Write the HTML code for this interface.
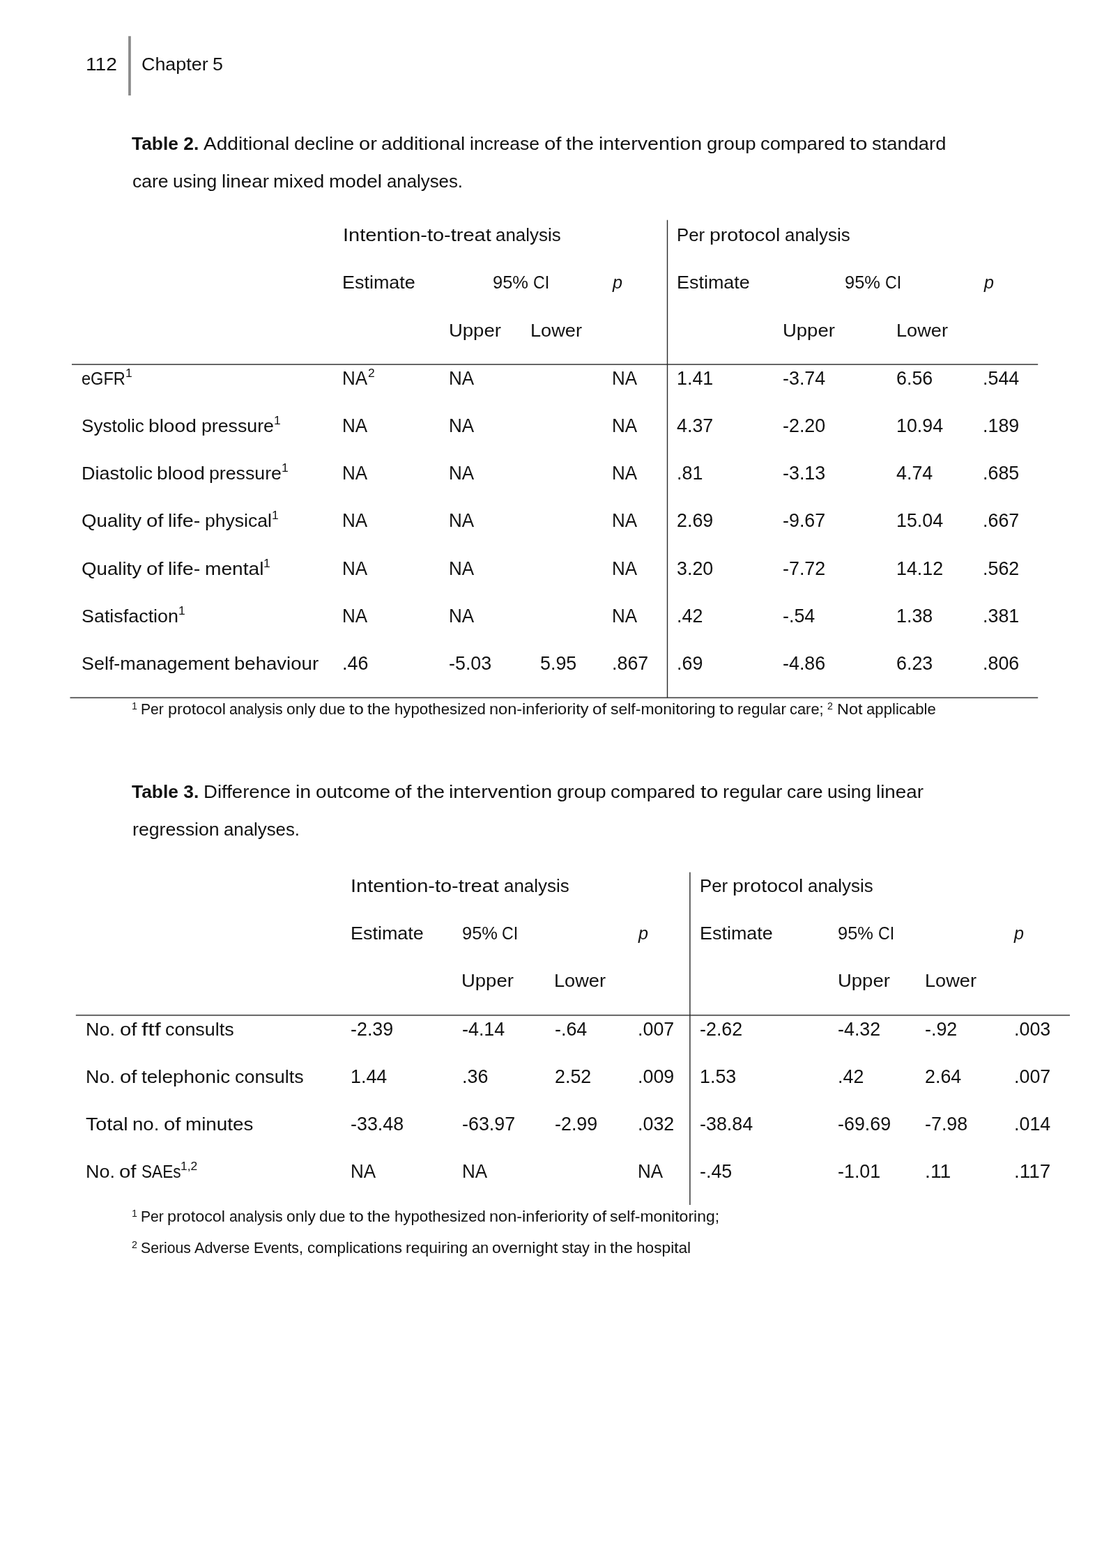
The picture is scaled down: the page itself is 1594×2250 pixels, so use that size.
<!DOCTYPE html><html lang="en"><head><meta charset="utf-8"><title>Chapter 5 - page 112</title><style>
html,body{margin:0;padding:0;background:#fff}
#pg{position:relative;width:1594px;height:2250px;overflow:hidden;background:#fff;font-family:"Liberation Sans",sans-serif;color:#111}
#pg span,#pg sup{position:absolute;white-space:pre;transform-origin:0 0;display:block}
.b{font-size:26.5px;line-height:32px;}
.B{font-size:26.5px;line-height:32px;font-weight:bold;}
.i{font-size:26.5px;line-height:32px;font-style:italic;}
.n{font-size:27.0px;line-height:32px;}
.f{font-size:21.7px;line-height:26px;}
.s{font-size:16.9px;line-height:20px;}
.t{font-size:13.8px;line-height:16px;}
svg{position:absolute;left:0;top:0}
</style></head><body><div id="pg">
<svg width="1594" height="2250" viewBox="0 0 1594 2250">
<rect x="184.1" y="51.8" width="3.7" height="85.2" fill="#8a8a8a"/>
<rect x="103" y="522.0" width="1386.2" height="1.8" fill="#555"/>
<rect x="100.5" y="1000.3" width="1388.7" height="1.8" fill="#555"/>
<rect x="956.8" y="315.7" width="1.4" height="685.5" fill="#2a2a2a"/>
<rect x="108.8" y="1455.9" width="1426.2" height="1.8" fill="#555"/>
<rect x="989.2" y="1251.6" width="1.4" height="477.4" fill="#2a2a2a"/>
</svg>
<div><span class="b" style="left:122.55px;top:76px;transform:scaleX(1.0610)">112</span></div>
<div><span class="b" style="left:202.97px;top:76px;transform:scaleX(1.0140)">Chapter </span><span class="b" style="left:305.23px;top:76px;transform:scaleX(1.0138)">5</span></div>
<div><span class="B" style="left:189.10px;top:190px;transform:scaleX(0.9948)">Table 2.</span></div>
<div><span class="b" style="left:292.14px;top:190px;transform:scaleX(1.0589)">Additional </span><span class="b" style="left:422.04px;top:190px;transform:scaleX(1.0272)">decline </span><span class="b" style="left:514.96px;top:190px;transform:scaleX(1.0956)">or </span><span class="b" style="left:547.43px;top:190px;transform:scaleX(1.0603)">additional </span><span class="b" style="left:674.39px;top:190px;transform:scaleX(0.9980)">increase </span><span class="b" style="left:781.01px;top:190px;transform:scaleX(1.1094)">of </span><span class="b" style="left:812.19px;top:190px;transform:scaleX(1.0864)">the </span><span class="b" style="left:858.87px;top:190px;transform:scaleX(1.0813)">intervention </span><span class="b" style="left:1013.68px;top:190px;transform:scaleX(1.0422)">group </span><span class="b" style="left:1090.98px;top:190px;transform:scaleX(1.0316)">compared </span><span class="b" style="left:1219.20px;top:190px;transform:scaleX(1.1494)">to </span><span class="b" style="left:1251.27px;top:190px;transform:scaleX(1.0310)">standard</span></div>
<div><span class="b" style="left:189.67px;top:244px;transform:scaleX(0.9998)">care </span><span class="b" style="left:247.88px;top:244px;transform:scaleX(0.9960)">using </span><span class="b" style="left:317.63px;top:244px;transform:scaleX(1.0499)">linear </span><span class="b" style="left:392.34px;top:244px;transform:scaleX(1.0356)">mixed </span><span class="b" style="left:472.20px;top:244px;transform:scaleX(1.0526)">model </span><span class="b" style="left:554.84px;top:244px;transform:scaleX(0.9732)">analyses.</span></div>
<div><span class="b" style="left:491.78px;top:321px;transform:scaleX(1.0944)">Intention-to-treat </span><span class="b" style="left:711.25px;top:321px;transform:scaleX(0.9776)">analysis</span></div>
<div><span class="b" style="left:971.24px;top:321px;transform:scaleX(0.9748)">Per </span><span class="b" style="left:1018.09px;top:321px;transform:scaleX(1.0759)">protocol </span><span class="b" style="left:1126.19px;top:321px;transform:scaleX(0.9776)">analysis</span></div>
<div><span class="b" style="left:491.41px;top:389px;transform:scaleX(1.0160)">Estimate</span></div>
<div><span class="b" style="left:707.12px;top:389px;transform:scaleX(0.9607)">95% </span><span class="b" style="left:764.74px;top:389px;transform:scaleX(0.8730)">CI</span></div>
<div><span class="i" style="left:879.43px;top:389px;transform:scaleX(0.9488)">p</span></div>
<div><span class="b" style="left:971.21px;top:389px;transform:scaleX(1.0160)">Estimate</span></div>
<div><span class="b" style="left:1212.02px;top:389px;transform:scaleX(0.9607)">95% </span><span class="b" style="left:1269.64px;top:389px;transform:scaleX(0.8730)">CI</span></div>
<div><span class="i" style="left:1411.93px;top:389px;transform:scaleX(0.9488)">p</span></div>
<div><span class="b" style="left:644.21px;top:458px;transform:scaleX(1.0367)">Upper</span></div>
<div><span class="b" style="left:761.01px;top:458px;transform:scaleX(1.0244)">Lower</span></div>
<div><span class="b" style="left:1123.21px;top:458px;transform:scaleX(1.0367)">Upper</span></div>
<div><span class="b" style="left:1285.91px;top:458px;transform:scaleX(1.0244)">Lower</span></div>
<div><span class="b" style="left:116.87px;top:527px;transform:scaleX(0.8886)">eGFR</span></div>
<div><sup class="s" style="left:179.67px;top:526px;transform:scaleX(1.0339)">1</sup></div>
<div><span class="n" style="left:491.40px;top:527px;transform:scaleX(0.9625)">NA</span></div>
<div><sup class="s" style="left:527.50px;top:526px;transform:scaleX(1.0339)">2</sup></div>
<div><span class="n" style="left:644.00px;top:527px;transform:scaleX(0.9625)">NA</span></div>
<div><span class="n" style="left:878.30px;top:527px;transform:scaleX(0.9625)">NA</span></div>
<div><span class="n" style="left:970.60px;top:527px;transform:scaleX(0.9943)">1.41</span></div>
<div><span class="n" style="left:1123.30px;top:527px;transform:scaleX(0.9956)">-3.74</span></div>
<div><span class="n" style="left:1285.60px;top:527px;transform:scaleX(0.9943)">6.56</span></div>
<div><span class="n" style="left:1409.90px;top:527px;transform:scaleX(0.9943)">.544</span></div>
<div><span class="b" style="left:116.81px;top:595px;transform:scaleX(0.9832)">Systolic </span><span class="b" style="left:213.24px;top:595px;transform:scaleX(1.0604)">blood </span><span class="b" style="left:288.65px;top:595px;transform:scaleX(1.0079)">pressure</span></div>
<div><sup class="s" style="left:392.56px;top:594px;transform:scaleX(1.0339)">1</sup></div>
<div><span class="n" style="left:491.40px;top:595px;transform:scaleX(0.9625)">NA</span></div>
<div><span class="n" style="left:644.00px;top:595px;transform:scaleX(0.9625)">NA</span></div>
<div><span class="n" style="left:878.30px;top:595px;transform:scaleX(0.9625)">NA</span></div>
<div><span class="n" style="left:970.60px;top:595px;transform:scaleX(0.9943)">4.37</span></div>
<div><span class="n" style="left:1123.30px;top:595px;transform:scaleX(0.9956)">-2.20</span></div>
<div><span class="n" style="left:1285.60px;top:595px;transform:scaleX(0.9945)">10.94</span></div>
<div><span class="n" style="left:1409.90px;top:595px;transform:scaleX(0.9943)">.189</span></div>
<div><span class="b" style="left:116.53px;top:663px;transform:scaleX(1.0174)">Diastolic </span><span class="b" style="left:225.07px;top:663px;transform:scaleX(1.0604)">blood </span><span class="b" style="left:300.48px;top:663px;transform:scaleX(1.0079)">pressure</span></div>
<div><sup class="s" style="left:404.40px;top:662px;transform:scaleX(1.0339)">1</sup></div>
<div><span class="n" style="left:491.40px;top:663px;transform:scaleX(0.9625)">NA</span></div>
<div><span class="n" style="left:644.00px;top:663px;transform:scaleX(0.9625)">NA</span></div>
<div><span class="n" style="left:878.30px;top:663px;transform:scaleX(0.9625)">NA</span></div>
<div><span class="n" style="left:970.60px;top:663px;transform:scaleX(0.9940)">.81</span></div>
<div><span class="n" style="left:1123.30px;top:663px;transform:scaleX(0.9956)">-3.13</span></div>
<div><span class="n" style="left:1285.60px;top:663px;transform:scaleX(0.9943)">4.74</span></div>
<div><span class="n" style="left:1409.90px;top:663px;transform:scaleX(0.9943)">.685</span></div>
<div><span class="b" style="left:117.18px;top:731px;transform:scaleX(1.0444)">Quality </span><span class="b" style="left:209.98px;top:731px;transform:scaleX(1.1094)">of </span><span class="b" style="left:241.16px;top:731px;transform:scaleX(1.0815)">life- </span><span class="b" style="left:294.00px;top:731px;transform:scaleX(1.0016)">physical</span></div>
<div><sup class="s" style="left:389.90px;top:730px;transform:scaleX(1.0339)">1</sup></div>
<div><span class="n" style="left:491.40px;top:731px;transform:scaleX(0.9625)">NA</span></div>
<div><span class="n" style="left:644.00px;top:731px;transform:scaleX(0.9625)">NA</span></div>
<div><span class="n" style="left:878.30px;top:731px;transform:scaleX(0.9625)">NA</span></div>
<div><span class="n" style="left:970.60px;top:731px;transform:scaleX(0.9943)">2.69</span></div>
<div><span class="n" style="left:1123.30px;top:731px;transform:scaleX(0.9956)">-9.67</span></div>
<div><span class="n" style="left:1285.60px;top:731px;transform:scaleX(0.9945)">15.04</span></div>
<div><span class="n" style="left:1409.90px;top:731px;transform:scaleX(0.9943)">.667</span></div>
<div><span class="b" style="left:117.06px;top:800px;transform:scaleX(1.0444)">Quality </span><span class="b" style="left:209.86px;top:800px;transform:scaleX(1.1094)">of </span><span class="b" style="left:241.04px;top:800px;transform:scaleX(1.0815)">life- </span><span class="b" style="left:293.88px;top:800px;transform:scaleX(1.0615)">mental</span></div>
<div><sup class="s" style="left:378.31px;top:799px;transform:scaleX(1.0339)">1</sup></div>
<div><span class="n" style="left:491.40px;top:800px;transform:scaleX(0.9625)">NA</span></div>
<div><span class="n" style="left:644.00px;top:800px;transform:scaleX(0.9625)">NA</span></div>
<div><span class="n" style="left:878.30px;top:800px;transform:scaleX(0.9625)">NA</span></div>
<div><span class="n" style="left:970.60px;top:800px;transform:scaleX(0.9943)">3.20</span></div>
<div><span class="n" style="left:1123.30px;top:800px;transform:scaleX(0.9956)">-7.72</span></div>
<div><span class="n" style="left:1285.60px;top:800px;transform:scaleX(0.9945)">14.12</span></div>
<div><span class="n" style="left:1409.90px;top:800px;transform:scaleX(0.9943)">.562</span></div>
<div><span class="b" style="left:117.02px;top:868px;transform:scaleX(1.0145)">Satisfaction</span></div>
<div><sup class="s" style="left:256.00px;top:867px;transform:scaleX(1.0339)">1</sup></div>
<div><span class="n" style="left:491.40px;top:868px;transform:scaleX(0.9625)">NA</span></div>
<div><span class="n" style="left:644.00px;top:868px;transform:scaleX(0.9625)">NA</span></div>
<div><span class="n" style="left:878.30px;top:868px;transform:scaleX(0.9625)">NA</span></div>
<div><span class="n" style="left:970.60px;top:868px;transform:scaleX(0.9940)">.42</span></div>
<div><span class="n" style="left:1123.30px;top:868px;transform:scaleX(0.9957)">-.54</span></div>
<div><span class="n" style="left:1285.60px;top:868px;transform:scaleX(0.9943)">1.38</span></div>
<div><span class="n" style="left:1409.90px;top:868px;transform:scaleX(0.9943)">.381</span></div>
<div><span class="b" style="left:116.76px;top:936px;transform:scaleX(1.0151)">Self-management </span><span class="b" style="left:335.75px;top:936px;transform:scaleX(1.0404)">behaviour</span></div>
<div><span class="n" style="left:491.40px;top:936px;transform:scaleX(0.9940)">.46</span></div>
<div><span class="n" style="left:644.00px;top:936px;transform:scaleX(0.9956)">-5.03</span></div>
<div><span class="n" style="left:774.60px;top:936px;transform:scaleX(0.9943)">5.95</span></div>
<div><span class="n" style="left:878.30px;top:936px;transform:scaleX(0.9943)">.867</span></div>
<div><span class="n" style="left:970.60px;top:936px;transform:scaleX(0.9940)">.69</span></div>
<div><span class="n" style="left:1123.30px;top:936px;transform:scaleX(0.9956)">-4.86</span></div>
<div><span class="n" style="left:1285.60px;top:936px;transform:scaleX(0.9943)">6.23</span></div>
<div><span class="n" style="left:1409.90px;top:936px;transform:scaleX(0.9943)">.806</span></div>
<div><sup class="t" style="left:188.84px;top:1006px;transform:scaleX(1.0359)">1</sup></div>
<div><span class="f" style="left:202.24px;top:1005px;transform:scaleX(0.9748)">Per </span><span class="f" style="left:240.59px;top:1005px;transform:scaleX(1.0760)">protocol </span><span class="f" style="left:329.06px;top:1005px;transform:scaleX(0.9777)">analysis </span><span class="f" style="left:411.12px;top:1005px;transform:scaleX(1.0512)">only </span><span class="f" style="left:458.39px;top:1005px;transform:scaleX(1.0319)">due </span><span class="f" style="left:501.18px;top:1005px;transform:scaleX(1.1495)">to </span><span class="f" style="left:527.42px;top:1005px;transform:scaleX(1.0865)">the </span><span class="f" style="left:565.63px;top:1005px;transform:scaleX(1.0240)">hypothesized </span><span class="f" style="left:701.96px;top:1005px;transform:scaleX(1.0852)">non-inferiority </span><span class="f" style="left:849.98px;top:1005px;transform:scaleX(1.1095)">of </span><span class="f" style="left:875.50px;top:1005px;transform:scaleX(1.0591)">self-monitoring </span><span class="f" style="left:1031.58px;top:1005px;transform:scaleX(1.1495)">to </span><span class="f" style="left:1057.82px;top:1005px;transform:scaleX(1.0361)">regular </span><span class="f" style="left:1133.22px;top:1005px;transform:scaleX(1.0090)">care;</span></div>
<div><sup class="t" style="left:1187.32px;top:1006px;transform:scaleX(1.0359)">2</sup></div>
<div><span class="f" style="left:1200.72px;top:1005px;transform:scaleX(1.0777)">Not </span><span class="f" style="left:1242.55px;top:1005px;transform:scaleX(1.0227)">applicable</span></div>
<div><span class="B" style="left:189.10px;top:1120px;transform:scaleX(0.9948)">Table 3.</span></div>
<div><span class="b" style="left:291.94px;top:1120px;transform:scaleX(1.0399)">Difference </span><span class="b" style="left:423.70px;top:1120px;transform:scaleX(1.0773)">in </span><span class="b" style="left:452.58px;top:1120px;transform:scaleX(1.0537)">outcome </span><span class="b" style="left:566.33px;top:1120px;transform:scaleX(1.1094)">of </span><span class="b" style="left:597.51px;top:1120px;transform:scaleX(1.0864)">the </span><span class="b" style="left:644.19px;top:1120px;transform:scaleX(1.0813)">intervention </span><span class="b" style="left:799.00px;top:1120px;transform:scaleX(1.0422)">group </span><span class="b" style="left:876.30px;top:1120px;transform:scaleX(1.0316)">compared </span><span class="b" style="left:1004.52px;top:1120px;transform:scaleX(1.1494)">to </span><span class="b" style="left:1036.59px;top:1120px;transform:scaleX(1.0361)">regular </span><span class="b" style="left:1128.71px;top:1120px;transform:scaleX(0.9998)">care </span><span class="b" style="left:1186.91px;top:1120px;transform:scaleX(0.9960)">using </span><span class="b" style="left:1256.67px;top:1120px;transform:scaleX(1.0499)">linear</span></div>
<div><span class="b" style="left:189.69px;top:1174px;transform:scaleX(1.0070)">regression </span><span class="b" style="left:320.95px;top:1174px;transform:scaleX(0.9732)">analyses.</span></div>
<div><span class="b" style="left:503.43px;top:1255px;transform:scaleX(1.0944)">Intention-to-treat </span><span class="b" style="left:722.90px;top:1255px;transform:scaleX(0.9776)">analysis</span></div>
<div><span class="b" style="left:1004.30px;top:1255px;transform:scaleX(0.9748)">Per </span><span class="b" style="left:1051.16px;top:1255px;transform:scaleX(1.0759)">protocol </span><span class="b" style="left:1159.26px;top:1255px;transform:scaleX(0.9776)">analysis</span></div>
<div><span class="b" style="left:502.71px;top:1323px;transform:scaleX(1.0160)">Estimate</span></div>
<div><span class="b" style="left:662.72px;top:1323px;transform:scaleX(0.9607)">95% </span><span class="b" style="left:720.34px;top:1323px;transform:scaleX(0.8730)">CI</span></div>
<div><span class="i" style="left:916.03px;top:1323px;transform:scaleX(0.9488)">p</span></div>
<div><span class="b" style="left:1003.91px;top:1323px;transform:scaleX(1.0160)">Estimate</span></div>
<div><span class="b" style="left:1202.02px;top:1323px;transform:scaleX(0.9607)">95% </span><span class="b" style="left:1259.64px;top:1323px;transform:scaleX(0.8730)">CI</span></div>
<div><span class="i" style="left:1455.13px;top:1323px;transform:scaleX(0.9488)">p</span></div>
<div><span class="b" style="left:662.31px;top:1391px;transform:scaleX(1.0367)">Upper</span></div>
<div><span class="b" style="left:795.11px;top:1391px;transform:scaleX(1.0244)">Lower</span></div>
<div><span class="b" style="left:1201.81px;top:1391px;transform:scaleX(1.0367)">Upper</span></div>
<div><span class="b" style="left:1326.61px;top:1391px;transform:scaleX(1.0244)">Lower</span></div>
<div><span class="b" style="left:123.03px;top:1461px;transform:scaleX(1.0183)">No. </span><span class="b" style="left:171.69px;top:1461px;transform:scaleX(1.1094)">of </span><span class="b" style="left:202.87px;top:1461px;transform:scaleX(1.2608)">ftf </span><span class="b" style="left:237.38px;top:1461px;transform:scaleX(1.0143)">consults</span></div>
<div><span class="n" style="left:502.90px;top:1461px;transform:scaleX(0.9956)">-2.39</span></div>
<div><span class="n" style="left:662.70px;top:1461px;transform:scaleX(0.9956)">-4.14</span></div>
<div><span class="n" style="left:795.50px;top:1461px;transform:scaleX(0.9957)">-.64</span></div>
<div><span class="n" style="left:914.70px;top:1461px;transform:scaleX(0.9943)">.007</span></div>
<div><span class="n" style="left:1003.70px;top:1461px;transform:scaleX(0.9956)">-2.62</span></div>
<div><span class="n" style="left:1202.10px;top:1461px;transform:scaleX(0.9956)">-4.32</span></div>
<div><span class="n" style="left:1327.30px;top:1461px;transform:scaleX(0.9957)">-.92</span></div>
<div><span class="n" style="left:1454.60px;top:1461px;transform:scaleX(0.9943)">.003</span></div>
<div><span class="b" style="left:122.90px;top:1529px;transform:scaleX(1.0183)">No. </span><span class="b" style="left:171.55px;top:1529px;transform:scaleX(1.1094)">of </span><span class="b" style="left:202.73px;top:1529px;transform:scaleX(1.0523)">telephonic </span><span class="b" style="left:336.53px;top:1529px;transform:scaleX(1.0143)">consults</span></div>
<div><span class="n" style="left:502.90px;top:1529px;transform:scaleX(0.9943)">1.44</span></div>
<div><span class="n" style="left:662.70px;top:1529px;transform:scaleX(0.9940)">.36</span></div>
<div><span class="n" style="left:795.50px;top:1529px;transform:scaleX(0.9943)">2.52</span></div>
<div><span class="n" style="left:914.70px;top:1529px;transform:scaleX(0.9943)">.009</span></div>
<div><span class="n" style="left:1003.70px;top:1529px;transform:scaleX(0.9943)">1.53</span></div>
<div><span class="n" style="left:1202.10px;top:1529px;transform:scaleX(0.9940)">.42</span></div>
<div><span class="n" style="left:1327.30px;top:1529px;transform:scaleX(0.9943)">2.64</span></div>
<div><span class="n" style="left:1454.60px;top:1529px;transform:scaleX(0.9943)">.007</span></div>
<div><span class="b" style="left:122.77px;top:1597px;transform:scaleX(1.0830)">Total </span><span class="b" style="left:190.05px;top:1597px;transform:scaleX(1.0432)">no. </span><span class="b" style="left:235.13px;top:1597px;transform:scaleX(1.1094)">of </span><span class="b" style="left:266.31px;top:1597px;transform:scaleX(1.0487)">minutes</span></div>
<div><span class="n" style="left:502.90px;top:1597px;transform:scaleX(0.9955)">-33.48</span></div>
<div><span class="n" style="left:662.70px;top:1597px;transform:scaleX(0.9955)">-63.97</span></div>
<div><span class="n" style="left:795.50px;top:1597px;transform:scaleX(0.9956)">-2.99</span></div>
<div><span class="n" style="left:914.70px;top:1597px;transform:scaleX(0.9943)">.032</span></div>
<div><span class="n" style="left:1003.70px;top:1597px;transform:scaleX(0.9955)">-38.84</span></div>
<div><span class="n" style="left:1202.10px;top:1597px;transform:scaleX(0.9955)">-69.69</span></div>
<div><span class="n" style="left:1327.30px;top:1597px;transform:scaleX(0.9956)">-7.98</span></div>
<div><span class="n" style="left:1454.60px;top:1597px;transform:scaleX(0.9943)">.014</span></div>
<div><span class="b" style="left:122.70px;top:1665px;transform:scaleX(1.0183)">No. </span><span class="b" style="left:171.36px;top:1665px;transform:scaleX(1.1094)">of </span><span class="b" style="left:202.54px;top:1665px;transform:scaleX(0.8524)">SAEs</span></div>
<div><sup class="s" style="left:259.03px;top:1664px;transform:scaleX(1.0312)">1,2</sup></div>
<div><span class="n" style="left:502.90px;top:1665px;transform:scaleX(0.9625)">NA</span></div>
<div><span class="n" style="left:662.70px;top:1665px;transform:scaleX(0.9625)">NA</span></div>
<div><span class="n" style="left:914.70px;top:1665px;transform:scaleX(0.9625)">NA</span></div>
<div><span class="n" style="left:1003.70px;top:1665px;transform:scaleX(0.9957)">-.45</span></div>
<div><span class="n" style="left:1202.10px;top:1665px;transform:scaleX(0.9956)">-1.01</span></div>
<div><span class="n" style="left:1327.30px;top:1665px;transform:scaleX(1.0501)">.11</span></div>
<div><span class="n" style="left:1454.60px;top:1665px;transform:scaleX(1.0337)">.117</span></div>
<div><sup class="t" style="left:188.71px;top:1734px;transform:scaleX(1.0359)">1</sup></div>
<div><span class="f" style="left:202.11px;top:1733px;transform:scaleX(0.9748)">Per </span><span class="f" style="left:240.46px;top:1733px;transform:scaleX(1.0760)">protocol </span><span class="f" style="left:328.93px;top:1733px;transform:scaleX(0.9777)">analysis </span><span class="f" style="left:410.99px;top:1733px;transform:scaleX(1.0512)">only </span><span class="f" style="left:458.26px;top:1733px;transform:scaleX(1.0319)">due </span><span class="f" style="left:501.05px;top:1733px;transform:scaleX(1.1495)">to </span><span class="f" style="left:527.29px;top:1733px;transform:scaleX(1.0865)">the </span><span class="f" style="left:565.50px;top:1733px;transform:scaleX(1.0240)">hypothesized </span><span class="f" style="left:701.83px;top:1733px;transform:scaleX(1.0852)">non-inferiority </span><span class="f" style="left:849.85px;top:1733px;transform:scaleX(1.1095)">of </span><span class="f" style="left:875.37px;top:1733px;transform:scaleX(1.0596)">self-monitoring;</span></div>
<div><sup class="t" style="left:188.66px;top:1779px;transform:scaleX(1.0359)">2</sup></div>
<div><span class="f" style="left:202.06px;top:1778px;transform:scaleX(0.9768)">Serious </span><span class="f" style="left:279.34px;top:1778px;transform:scaleX(0.9980)">Adverse </span><span class="f" style="left:364.19px;top:1778px;transform:scaleX(0.9801)">Events, </span><span class="f" style="left:440.53px;top:1778px;transform:scaleX(1.0356)">complications </span><span class="f" style="left:582.05px;top:1778px;transform:scaleX(1.0575)">requiring </span><span class="f" style="left:676.74px;top:1778px;transform:scaleX(1.0039)">an </span><span class="f" style="left:706.41px;top:1778px;transform:scaleX(1.0573)">overnight </span><span class="f" style="left:806.19px;top:1778px;transform:scaleX(1.0054)">stay </span><span class="f" style="left:851.64px;top:1778px;transform:scaleX(1.0774)">in </span><span class="f" style="left:875.27px;top:1778px;transform:scaleX(1.0865)">the </span><span class="f" style="left:913.48px;top:1778px;transform:scaleX(1.0454)">hospital</span></div>
</div></body></html>
